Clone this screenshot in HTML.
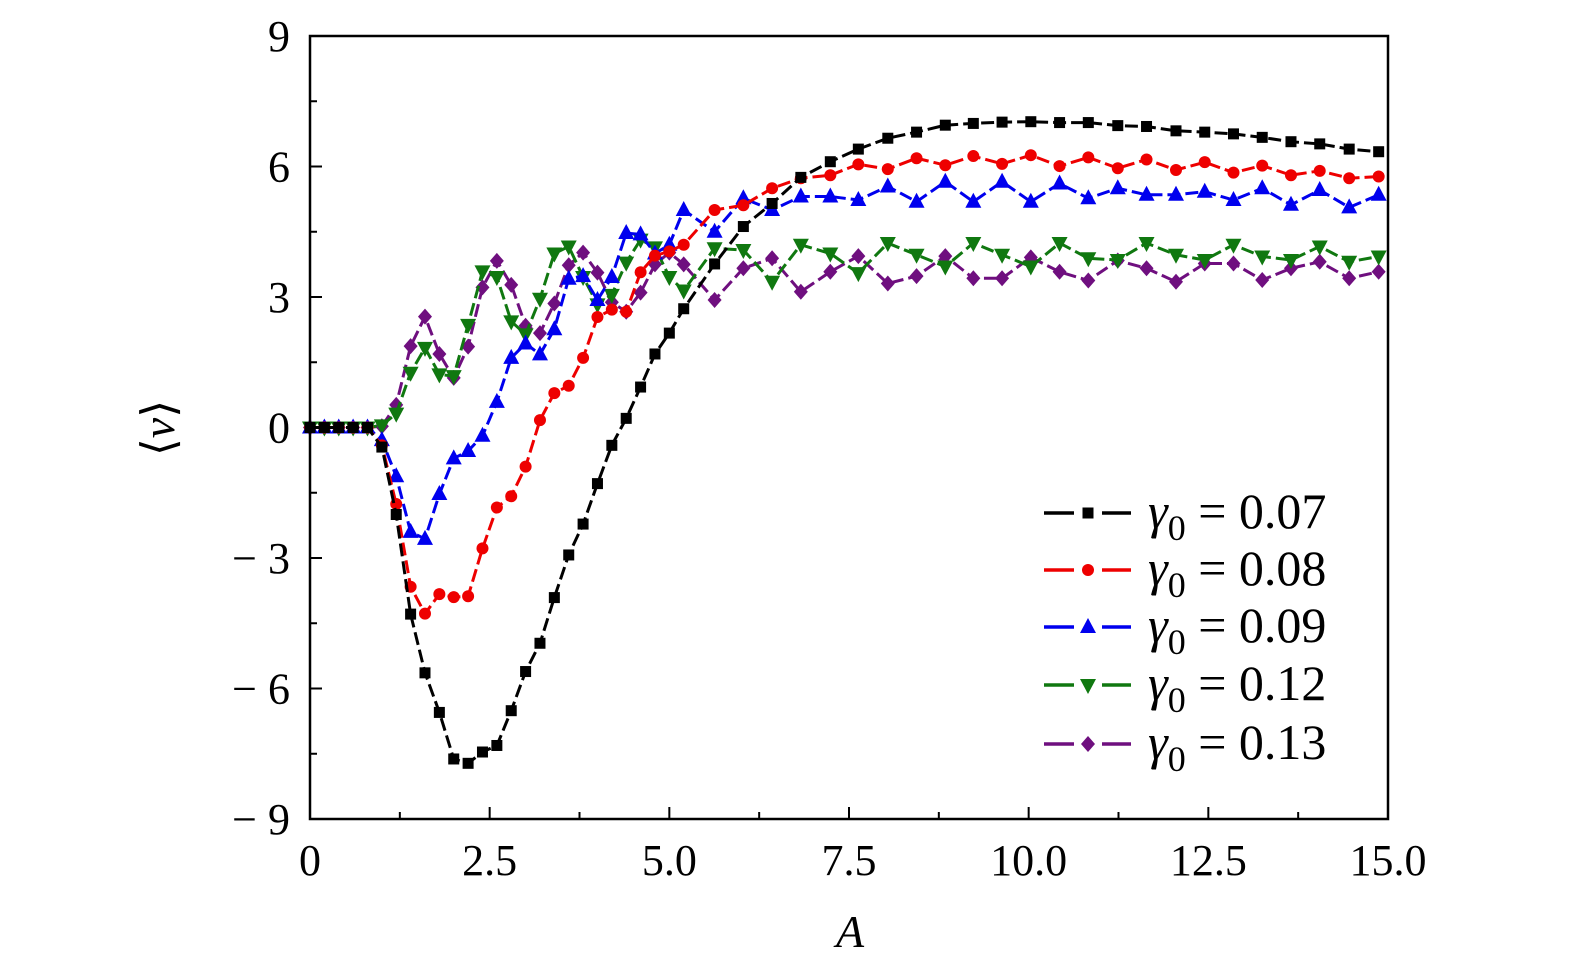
<!DOCTYPE html>
<html><head><meta charset="utf-8"><style>
html,body{margin:0;padding:0;background:#fff;}
svg{display:block;}
text{font-family:"Liberation Serif",serif;fill:#000;}
</style></head><body>
<svg id="chart" width="1575" height="974" viewBox="0 0 1575 974" xmlns="http://www.w3.org/2000/svg">
<g id="plot"></g>
</svg>
<script>
const A_values = [0,0.2,0.4,0.6,0.8,1.0,1.2,1.4,1.6,1.8,2.0,2.2,2.4,2.6,2.8,3.0,3.2,3.4,3.6,3.8,4.0,4.2,4.4,4.6,4.8,5.0,5.2,
  5.63,6.03,6.43,6.83,7.24,7.63,8.04,8.44,8.84,9.23,9.63,10.03,10.43,10.83,11.24,11.64,12.05,12.45,12.85,13.25,13.65,14.05,14.46,14.87];
const series_g007 = [0,0,0,0,0,-0.45,-2.0,-4.29,-5.64,-6.55,-7.62,-7.72,-7.46,-7.31,-6.51,-5.61,-4.96,-3.91,-2.93,-2.22,-1.29,-0.41,0.21,0.93,1.69,2.17,2.73,
  3.76,4.62,5.15,5.75,6.11,6.40,6.65,6.79,6.95,6.99,7.02,7.03,7.01,7.01,6.94,6.92,6.82,6.79,6.75,6.67,6.57,6.52,6.40,6.34];
const series_g008 = [0,0,0,0,0,-0.41,-1.76,-3.66,-4.28,-3.83,-3.90,-3.88,-2.78,-1.84,-1.58,-0.90,0.17,0.79,0.96,1.60,2.54,2.71,2.66,3.57,3.95,4.05,4.20,
  5.0,5.11,5.50,5.73,5.80,6.05,5.94,6.19,6.03,6.24,6.06,6.26,6.01,6.21,5.96,6.16,5.92,6.10,5.86,6.02,5.80,5.90,5.73,5.77];
const series_g009 = [0,0,0,0,0,-0.29,-1.12,-2.40,-2.56,-1.53,-0.71,-0.54,-0.19,0.59,1.60,1.93,1.68,2.26,3.42,3.48,2.93,3.46,4.47,4.44,4.0,4.2,5.0,
  4.50,5.27,5.0,5.31,5.31,5.23,5.54,5.19,5.65,5.19,5.65,5.19,5.61,5.27,5.50,5.35,5.35,5.42,5.23,5.50,5.12,5.46,5.06,5.35];
const series_g012 = [0,0,0,0,0,0.05,0.32,1.26,1.83,1.22,1.18,2.36,3.59,3.46,2.44,2.14,2.96,4.0,4.16,3.46,2.83,3.05,3.79,4.32,4.14,3.46,3.15,
  4.12,4.08,3.35,4.20,4.0,3.55,4.24,3.97,3.70,4.24,3.97,3.70,4.24,3.89,3.85,4.24,3.97,3.85,4.20,3.93,3.85,4.16,3.81,3.93];
const series_g013 = [0,0,0,0,0,0.03,0.52,1.87,2.55,1.69,1.14,1.86,3.22,3.83,3.28,2.34,2.17,2.85,3.73,4.02,3.56,2.88,2.66,3.10,3.75,4.02,3.75,
  2.93,3.66,3.89,3.12,3.58,3.94,3.31,3.48,3.94,3.43,3.43,3.91,3.58,3.38,3.84,3.66,3.35,3.77,3.77,3.39,3.66,3.81,3.43,3.58];
const series_labels = ["0.07","0.08","0.09","0.12","0.13"];
const x_ticks = [0,2.5,5.0,7.5,10.0,12.5,15.0];
const x_tick_labels = ["0","2.5","5.0","7.5","10.0","12.5","15.0"];
const y_ticks = [9,6,3,0,-3,-6,-9];
const y_tick_labels = ["9","6","3","0","\u2212 3","\u2212 6","\u2212 9"];

const NS="http://www.w3.org/2000/svg";
const L=310,R=1388,T=36,B=819;
const xs=a=>L+(a-0)/(15-0)*(R-L);
const ys=v=>T+(9-v)/18*(B-T);
const g=document.getElementById('plot');
function mk(tag,attrs,parent){const e=document.createElementNS(NS,tag);for(const k in attrs)e.setAttribute(k,attrs[k]);(parent||g).appendChild(e);return e;}

for(let i=0;i<x_ticks.length;i++){
  const x=xs(x_ticks[i]);
  const t=mk('line',{x1:x,x2:x,y1:B,y2:B-12,stroke:'#000','stroke-width':2});
  
  
  const lb=mk('text',{x:x,y:875,'text-anchor':'middle','font-size':44});
  lb.textContent=x_tick_labels[i];
  
  
  if(i<x_ticks.length-1){
    const xm=xs(x_ticks[i]+1.25);
    const m=mk('line',{x1:xm,x2:xm,y1:B,y2:B-7,stroke:'#000','stroke-width':2});
    
    
  }
}
for(let i=0;i<y_ticks.length;i++){
  const y=ys(y_ticks[i]);
  const t=mk('line',{x1:L,x2:L+12,y1:y,y2:y,stroke:'#000','stroke-width':2});
  
  
  const lb=mk('text',{x:290,y:y+15,'text-anchor':'end','font-size':44});
  lb.textContent=y_tick_labels[i];
  
  
  if(i<y_ticks.length-1){
    const ym=ys(y_ticks[i]-1.5);
    const m=mk('line',{x1:L,x2:L+7,y1:ym,y2:ym,stroke:'#000','stroke-width':2});
    
    
  }
}

const colors=['#000000','#ee0000','#0000ee','#107810','#6f0f7f'];
const shapes=['square','circle','up','down','diamond'];
const allSeries=[series_g007,series_g008,series_g009,series_g012,series_g013];
function marker(shape,x,y,c,parent){
  let e;
  if(shape==='square') e=mk('rect',{x:x-5.5,y:y-5.5,width:11,height:11,fill:c},parent);
  else if(shape==='circle') e=mk('circle',{cx:x,cy:y,r:6,fill:c},parent);
  else if(shape==='up') e=mk('polygon',{points:`${x},${y-9} ${x-8},${y+6} ${x+8},${y+6}`,fill:c},parent);
  else if(shape==='down') e=mk('polygon',{points:`${x},${y+9} ${x-8},${y-6} ${x+8},${y-6}`,fill:c},parent);
  else e=mk('polygon',{points:`${x},${y-8} ${x+7},${y} ${x},${y+8} ${x-7},${y}`,fill:c},parent);
  return e;
}
for(let s=allSeries.length-1;s>=0;s--){
  const sg=mk('g',{});
  
  
  const pts=allSeries[s].map((v,i)=>xs(A_values[i]).toFixed(1)+','+ys(v).toFixed(1)).join(' ');
  const pl=mk('polyline',{points:pts,fill:'none',stroke:colors[s],'stroke-width':3,'stroke-dasharray':'13,5','stroke-linejoin':'round'},sg);
  
  
  allSeries[s].forEach((v,i)=>{
    const m=marker(shapes[s],xs(A_values[i]),ys(v),colors[s],sg);
    
    
  });
}
const fr=mk('rect',{x:L,y:T,width:R-L,height:B-T,fill:'none',stroke:'#000','stroke-width':2.5});



const lg=mk('g',{});


const rowsY=[513,570,627,685,744];
for(let s=0;s<5;s++){
  const y=rowsY[s];
  const e=mk('g',{},lg);
  
  
  mk('line',{x1:1044,x2:1074,y1:y,y2:y,stroke:colors[s],'stroke-width':3.5},e);
  mk('line',{x1:1102,x2:1131,y1:y,y2:y,stroke:colors[s],'stroke-width':3.5},e);
  marker(shapes[s],1088,y,colors[s],e);
  const t=mk('text',{x:1148,y:y+15,'font-size':50},e);
  t.innerHTML='<tspan font-style="italic">γ</tspan><tspan font-size="36" dy="12">0</tspan><tspan dy="-12"> = '+series_labels[s]+'</tspan>';
}
const xt=mk('text',{x:850,y:947,'text-anchor':'middle','font-size':46,'font-style':'italic'});
xt.textContent='A';


const yt=mk('text',{x:0,y:0,'text-anchor':'middle','font-size':46,transform:'translate(174,428) rotate(-90)'});
yt.innerHTML='⟨<tspan font-style="italic">v</tspan>⟩';


</script>
</body></html>
